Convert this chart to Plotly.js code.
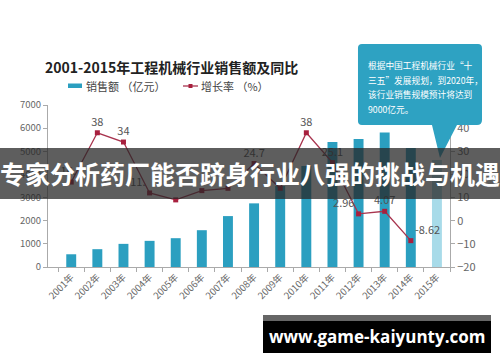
<!DOCTYPE html>
<html>
<head>
<meta charset="utf-8">
<script src="https://cdn.plot.ly/plotly-3.0.1.min.js"></script>
<style>html,body{margin:0;padding:0;background:#fff;}#chart{width:500px;height:362px;}</style>
</head>
<body>
<div id="chart"></div>
<script>
const years = ["2001年","2002年","2003年","2004年","2005年","2006年","2007年","2008年","2009年","2010年","2011年","2012年","2013年","2014年","2015年"];
const sales = [550, 770, 1000, 1130, 1245, 1590, 2200, 2750, 3500, 4367, 5400, 5530, 5810, 5140, 4625];
const growthYears = years.slice(0, 14);
const growth = [16.7, 38, 34, 12, 9, 13, 14, 24.7, 14, 38, 25.1, 2.96, 4.07, -8.62];
const growthLabels = ["16.7","38","34","11.","","","","24.7","","38","25.1","2.96","4.07","-8.62"];
const calloutLines = ["根据中国工程机械行业“十","三五”发展规划，到2020年，","该行业销售规模预计将达到","9000亿元。"];
const titleText = "2001-2015年工程机械行业销售额及同比";
const bannerText = "专家分析药厂能否跻身行业八强的挑战与机遇";
const watermark = "www.game-kaiyunty.com";

const W = 500, H = 362;
const M = {l: 48, r: 50, t: 105, b: 95};
const PW = W - M.l - M.r, PH = H - M.t - M.b;
const px = x => (x - M.l) / PW;
const py = y => (H - M.b - y) / PH;
const FONT = '"Noto Sans CJK SC", "Noto Sans", sans-serif';

const barColors = sales.map((v, i) => i === sales.length - 1 ? '#a8dbe9' : '#2b9fc0');
const textPos = ["top center","top center","top center","top left","top center","top center","top center","top center","top center","top center","top center","top left","top center","top right"];

const traces = [
  {
    type: 'bar', x: years, y: sales, name: '销售额', marker: {color: barColors}, yaxis: 'y', showlegend: false, hoverinfo: 'skip'
  },
  {
    type: 'scatter', mode: 'lines+markers+text', x: growthYears, y: growth, yaxis: 'y2', name: '增长率',
    line: {color: '#a8344e', width: 1.3}, marker: {symbol: 'square', size: 5, color: '#a8203e'},
    text: growthLabels, textposition: textPos, textfont: {family: FONT, size: 11, color: '#555'},
    cliponaxis: false, showlegend: false, hoverinfo: 'skip'
  }
];

const cp = [
  ['M', 362, 44], ['L', 478, 44], ['Q', 482, 44], ['', 482, 48], ['L', 482, 120], ['Q', 482, 125], ['', 477, 125],
  ['L', 457, 125], ['L', 440, 158], ['L', 432, 125], ['L', 362, 125], ['Q', 358, 125], ['', 358, 121], ['L', 358, 48], ['Q', 358, 44], ['', 362, 44]
];
let path = '';
cp.forEach(p => { path += (p[0] ? ' ' + p[0] : ' ') + px(p[1]).toFixed(4) + ',' + py(p[2]).toFixed(4); });
path += ' Z';

const shapes = [
  {type: 'path', xref: 'paper', yref: 'paper', path: path, fillcolor: '#2ea2c2', line: {width: 0}, layer: 'above'},
  {type: 'rect', xref: 'paper', yref: 'paper', x0: px(68), x1: px(82), y0: py(88), y1: py(83.5), fillcolor: '#2b9fc0', line: {width: 0}},
  {type: 'line', xref: 'paper', yref: 'paper', x0: px(183), x1: px(198), y0: py(86), y1: py(86), line: {color: '#a8344e', width: 1.3}},
  {type: 'rect', xref: 'paper', yref: 'paper', x0: px(188.5), x1: px(192.5), y0: py(84), y1: py(88), fillcolor: '#a8203e', line: {width: 0}},
  {type: 'rect', xref: 'paper', yref: 'paper', x0: px(0), x1: px(500), y0: py(148), y1: py(199), fillcolor: 'rgba(38,38,38,0.74)', line: {width: 0}, layer: 'above'},
  {type: 'rect', xref: 'paper', yref: 'paper', x0: px(263), x1: px(491), y0: py(315), y1: py(353), fillcolor: '#000', line: {width: 0}, layer: 'above'},
  {type: 'rect', xref: 'paper', yref: 'paper', x0: px(263), x1: px(491), y0: py(315), y1: py(321), fillcolor: '#666', line: {width: 0}, layer: 'above'}
];

const annotations = [
  {xref: 'paper', yref: 'paper', x: px(43), y: py(67), xanchor: 'left', yanchor: 'middle', showarrow: false,
   text: '<b>' + titleText + '</b>', font: {family: FONT, size: 14, color: '#222'}},
  {xref: 'paper', yref: 'paper', x: px(84), y: py(86), xanchor: 'left', yanchor: 'middle', showarrow: false,
   text: '销售额 （亿元）', font: {family: FONT, size: 11, color: '#444'}},
  {xref: 'paper', yref: 'paper', x: px(199), y: py(86), xanchor: 'left', yanchor: 'middle', showarrow: false,
   text: '增长率 （%）', font: {family: FONT, size: 11, color: '#444'}},
  {xref: 'paper', yref: 'paper', x: px(250), y: py(173), xanchor: 'center', yanchor: 'middle', showarrow: false,
   text: '<b>' + bannerText + '</b>', font: {family: FONT, size: 25, color: '#fff'}},
  {xref: 'paper', yref: 'paper', x: px(377), y: py(336), xanchor: 'center', yanchor: 'middle', showarrow: false,
   text: '<b>' + watermark + '</b>', font: {family: '"Open Sans", "DejaVu Sans", sans-serif', size: 17, color: '#fff'}}
];
const lineYs = [65, 80, 94.5, 109];
calloutLines.forEach((t, i) => annotations.push({
  xref: 'paper', yref: 'paper', x: px(366), y: py(lineYs[i]), xanchor: 'left', yanchor: 'middle', showarrow: false,
  text: t, font: {family: FONT, size: 8.7, color: '#fff'}
}));

const layout = {
  width: W, height: H, margin: M,
  paper_bgcolor: '#fff', plot_bgcolor: '#fff',
  showlegend: false, bargap: 0.62,
  font: {family: FONT},
  xaxis: {type: 'category', showgrid: false, showline: true, linecolor: '#aaa', linewidth: 1,
          ticks: 'outside', ticklen: 4, tickcolor: '#aaa', tickson: 'boundaries', tickangle: -45,
          tickfont: {family: FONT, size: 9.5, color: '#666'}, zeroline: false},
  yaxis: {range: [0, 7000], dtick: 1000, showgrid: false, showline: true, linecolor: '#aaa', linewidth: 1,
          ticks: 'outside', ticklen: 4, tickcolor: '#aaa', zeroline: false,
          tickfont: {family: FONT, size: 9.5, color: '#666'}},
  yaxis2: {range: [-20, 50], dtick: 10, overlaying: 'y', side: 'right', showgrid: false, showline: true,
           linecolor: '#aaa', linewidth: 1, ticks: 'outside', ticklen: 4, tickcolor: '#aaa', zeroline: false,
           tickfont: {family: FONT, size: 11, color: '#666'}},
  shapes: shapes, annotations: annotations
};

Plotly.newPlot('chart', traces, layout, {displayModeBar: false, staticPlot: true});
</script>
</body>
</html>
